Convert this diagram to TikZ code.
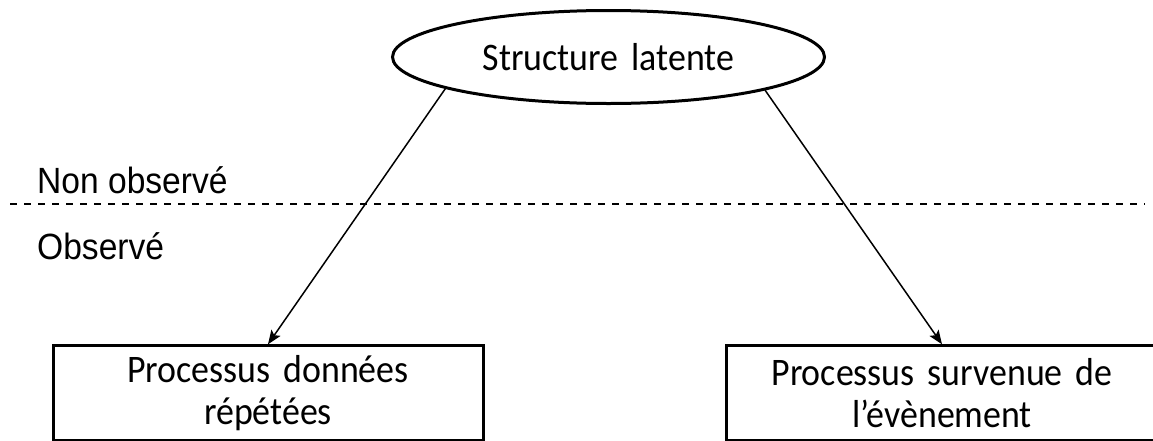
\documentclass[tikz,border=0pt]{standalone}
\usepackage{fontspec}
\setmainfont[FakeStretch=0.92]{Carlito}
\newfontfamily\arialfont[FakeStretch=0.92]{Liberation Sans}
\usetikzlibrary{arrows.meta,shapes.geometric}
\newcommand\boxfont{\fontsize{39}{41.5}\selectfont\spaceskip 13pt\relax}
\tikzset{
  boxnode/.style={draw, line width=3pt, rectangle, minimum width=430pt, minimum height=94.5pt, inner sep=0pt, align=center, font=\boxfont},
  ellnode/.style={draw, line width=3pt, ellipse, minimum width=432pt, minimum height=93pt, inner sep=0pt, font=\boxfont},
  arr/.style={line width=1.5pt, -{Stealth[length=14pt,width=11pt,inset=3pt]}},
  lbl/.style={anchor=base west, inner sep=0pt, font=\arialfont\fontsize{36.5}{38}\selectfont},
  sep/.style={line width=2pt, dash pattern=on 7pt off 7pt}
}
\begin{document}
\begin{tikzpicture}[x=1pt,y=-1pt]
\useasboundingbox (0,0) rectangle (1153,440);
\clip (0,0) rectangle (1153,440);
\node[ellnode] (ell) at (608.5,57) {Structure latente};
\node[boxnode] (b1) at (268,393) {Processus données\\répétées};
\node[boxnode, minimum width=432pt] (b2) at (942,393) {Processus survenue de\\l’évènement};
\node[lbl] (no) at (37,193) {Non observé};
\node[lbl] (ob) at (37,259) {Observé};
\coordinate (dl) at (10,204);
\coordinate (dr) at (1145,204);
\draw[sep] (dl) -- (dr);
\draw[arr] (ell.191.5) -- (b1.north);
\draw[arr] (ell.348) -- (b2.north);
\end{tikzpicture}
\end{document}
